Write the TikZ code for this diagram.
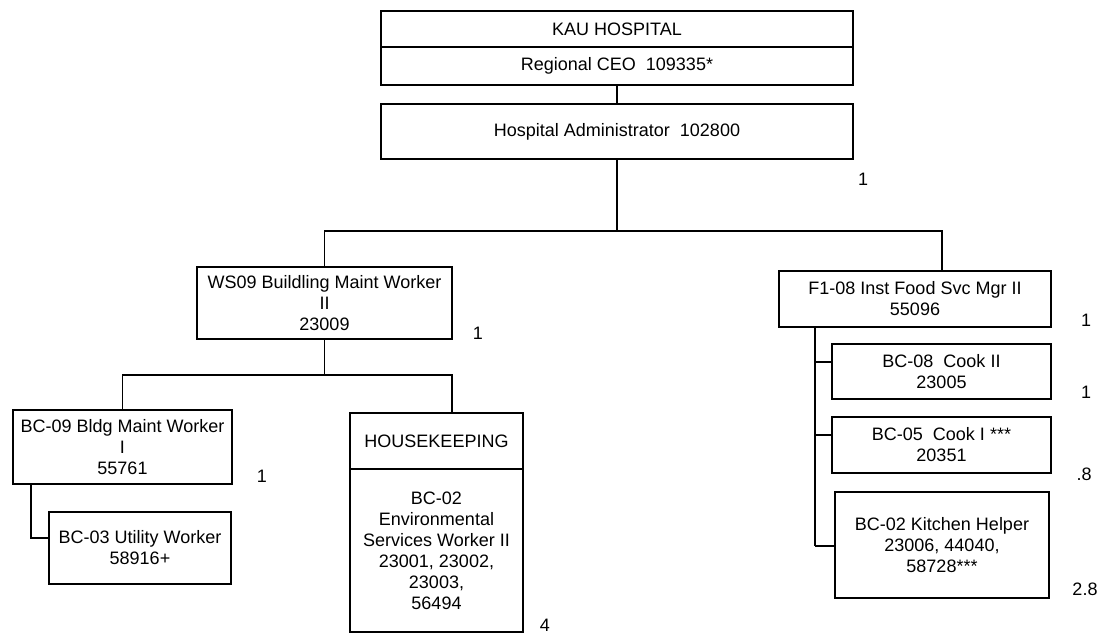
\documentclass[tikz,border=0pt]{standalone}
\usepackage{fontspec}
\setmainfont{Liberation Sans}
\begin{document}
\begin{tikzpicture}[x=1pt,y=-1pt,
  box/.style={draw,line width=1.5pt,rectangle,inner sep=0pt,align=center,font=\fontsize{18}{21}\selectfont},
  conn/.style={line width=1.5pt},
  lab/.style={font=\fontsize{18}{21}\selectfont,inner sep=0pt}]
\useasboundingbox (0,0) rectangle (1104,634);
% top
\node[box,minimum width=472pt,minimum height=36pt] (kau) at (617,29) {KAU HOSPITAL};
\node[box,minimum width=472pt,minimum height=38pt] (ceo) at (617,66) {Regional CEO\ \ 109335*};
\node[box,minimum width=472pt,minimum height=55pt] (admin) at (617,131.5) {Hospital Administrator\ \ 102800};
% level 2
\node[box,minimum width=255pt,minimum height=72pt] (ws) at (324.5,303) {WS09 Buildling Maint Worker\\II\\23009};
\node[box,minimum width=272pt,minimum height=56pt] (fs) at (915,299) {F1-08 Inst Food Svc Mgr II\\55096};
% left subtree
\node[box,minimum width=219pt,minimum height=74pt] (bc09) at (122.5,447) {BC-09 Bldg Maint Worker\\I\\55761};
\node[box,minimum width=182pt,minimum height=72pt] (bc03) at (140,548) {BC-03 Utility Worker\\58916+};
\node[box,minimum width=173pt,minimum height=56pt] (hk) at (436.5,441) {HOUSEKEEPING};
\node[box,minimum width=173pt,minimum height=163pt] (hkb) at (436.5,550.5) {BC-02\\Environmental\\Services Worker II\\23001, 23002,\\23003,\\56494};
% right subtree
\node[box,minimum width=219pt,minimum height=55pt] (bc08) at (941.5,371.5) {BC-08\ \ Cook II\\23005};
\node[box,minimum width=219pt,minimum height=56pt] (bc05) at (941.5,445) {BC-05\ \ Cook I ***\\20351};
\node[box,minimum width=214pt,minimum height=106pt] (kh) at (942,545) {BC-02 Kitchen Helper\\23006, 44040,\\58728***};
% FTE labels
\node[lab] (l1) at (863,179) {1};
\node[lab] (l2) at (478,333) {1};
\node[lab] (l3) at (1086,320) {1};
\node[lab] (l4) at (1086,392) {1};
\node[lab] (l5) at (1084,474) {.8};
\node[lab] (l6) at (1085,589) {2.8};
\node[lab] (l7) at (262,476) {1};
\node[lab] (l8) at (545,625) {4};
% connectors
\coordinate (j1) at (617,231);
\draw[conn] (ceo.south) -- (admin.north);
\draw[conn] (admin.south) -- (j1);
\draw[conn] (ws.north) |- (j1) -| (942,0 |- fs.north);
\coordinate (j2) at (324.5,375);
\draw[conn] (ws.south) -- (j2);
\draw[conn] (bc09.north) |- (j2) -| (452,0 |- hk.north);
\draw[conn] (31,0 |- bc09.south) |- (bc03.west |- 0,538);
\draw[conn] (815,0 |- fs.south) |- (bc08.west |- 0,362);
\draw[conn] (815,435) -- (bc05.west |- 0,435);
\draw[conn] (815,546) -- (kh.west |- 0,546);
\draw[conn] (815,362) -- (815,546);
\end{tikzpicture}
\end{document}
